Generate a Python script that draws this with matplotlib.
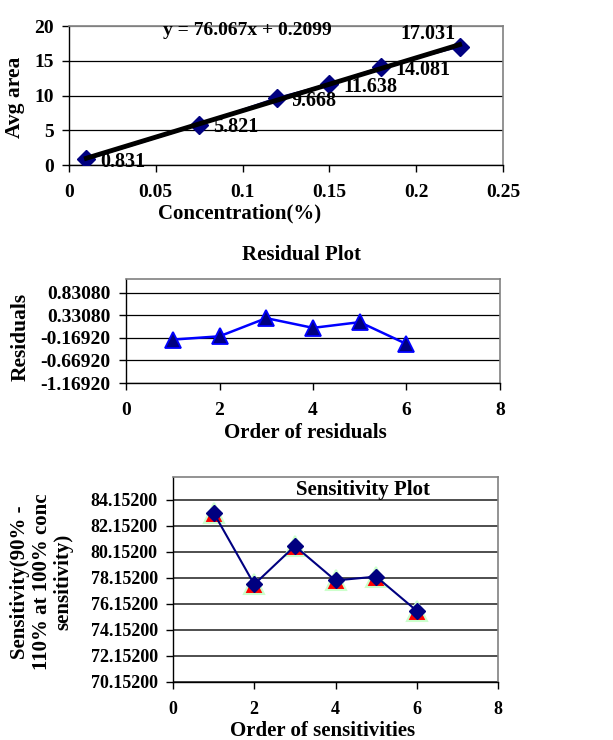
import numpy as np
import matplotlib
matplotlib.use("Agg")
import matplotlib.pyplot as plt

plt.rcParams['font.family'] = ['Liberation Serif', 'DejaVu Serif']
plt.rcParams['font.weight'] = 'bold'

# calibration data
conc = [0.01, 0.075, 0.12, 0.15, 0.18, 0.225]
area = [0.831, 5.821, 9.668, 11.638, 14.081, 17.031]
area_labels = ['0.831', '5.821', '9.668', '11.638', '14.081', '17.031']
equation = 'y = 76.067x + 0.2099'

# residuals
res_order = [1, 2, 3, 4, 5, 6]
residuals = [-0.206, -0.132, 0.271, 0.055, 0.182, -0.303]
res_ticks = [-1.1692, -0.6692, -0.1692, 0.3308, 0.8308]
res_ticklabels = ['-1.16920', '-0.66920', '-0.16920', '0.33080', '0.83080']

# sensitivities
sens_order = [1, 2, 3, 4, 5, 6]
sensitivity = [83.15, 77.65, 80.60, 77.95, 78.25, 75.62]
sens_ticks = [70.152, 72.152, 74.152, 76.152, 78.152, 80.152, 82.152, 84.152]
sens_ticklabels = ['70.15200', '72.15200', '74.15200', '76.15200',
                   '78.15200', '80.15200', '82.15200', '84.15200']

W, H = 613, 740
fig = plt.figure(figsize=(W / 100, H / 100), dpi=100)


def box(l, t, r, b):
    return [l / W, 1 - b / H, (r - l) / W, (b - t) / H]


def style(ax, size):
    for s in ['top', 'right']:
        ax.spines[s].set_color('#808080')
        ax.spines[s].set_linewidth(1.2)
    for s in ['left', 'bottom']:
        ax.spines[s].set_color('black')
        ax.spines[s].set_linewidth(1.0)
    ax.tick_params(axis='both', direction='out', length=5, width=1,
                   labelsize=size)
    ax.tick_params(axis='x', pad=9)
    ax.tick_params(axis='y', pad=6)
    ax.grid(axis='y', color='black', linewidth=0.9)
    ax.set_axisbelow(True)
    for lab in ax.get_xticklabels() + ax.get_yticklabels():
        lab.set_fontweight('bold')


# ---- calibration plot
ax1 = fig.add_axes(box(69, 26, 503, 165))
ax1.plot(conc, area, color='#000080', linewidth=1.5, marker='D',
         markersize=9, markerfacecolor='#000080', markeredgecolor='#000080',
         zorder=3)
m, b = np.polyfit(conc, area, 1)
xfit = np.array([conc[0], conc[-1]])
ax1.plot(xfit, m * xfit + b, color='black', linewidth=3.5, zorder=4)
for i, (xv, yv, t) in enumerate(zip(conc, area, area_labels)):
    if i == len(conc) - 1:
        ax1.annotate(t, (xv, yv), xytext=(-3, 2), textcoords='offset points',
                     ha='right', va='bottom', fontsize=14.5, fontweight='bold',
                     zorder=5)
    else:
        ax1.annotate(t, (xv, yv), xytext=(10, -2), textcoords='offset points',
                     ha='left', va='center', fontsize=14.5, fontweight='bold',
                     zorder=5)
ax1.text(0.054, 19.4, equation, fontsize=14, fontweight='bold', ha='left',
         va='center')
ax1.set_xlim(0, 0.25)
ax1.set_ylim(0, 20)
ax1.set_xticks([0, 0.05, 0.1, 0.15, 0.2, 0.25])
ax1.set_xticklabels(['0', '0.05', '0.1', '0.15', '0.2', '0.25'])
ax1.set_yticks([0, 5, 10, 15, 20])
style(ax1, 14)
ax1.get_ygridlines()[-1].set_color('#808080')
fig.text(240 / W, 1 - 213 / H, 'Concentration(%)', fontsize=15,
         fontweight='bold', ha='center', va='center')
fig.text(15 / W, 1 - 97 / H, 'Avg area', fontsize=15.5, fontweight='bold',
         ha='center', va='center', rotation=90)

# ---- residual plot
ax2 = fig.add_axes(box(126, 279, 500, 383))
ax2.plot(res_order, residuals, color='#0000FF', linewidth=1.8, marker='^',
         markersize=12, markerfacecolor='#000080', markeredgecolor='#0000FF',
         markeredgewidth=1.3, zorder=3)
ax2.set_xlim(0, 8)
ax2.set_ylim(-1.1692, 1.14)
ax2.set_xticks([0, 2, 4, 6, 8])
ax2.set_yticks(res_ticks)
ax2.set_yticklabels(res_ticklabels)
style(ax2, 14)
fig.text(301 / W, 1 - 255 / H, 'Residual Plot', fontsize=15,
         fontweight='bold', ha='center', va='center')
fig.text(305 / W, 1 - 433 / H, 'Order of residuals', fontsize=15,
         fontweight='bold', ha='center', va='center')
fig.text(21 / W, 1 - 337 / H, 'Residuals', fontsize=15.5, fontweight='bold',
         ha='center', va='center', rotation=90)

# ---- sensitivity plot
ax3 = fig.add_axes(box(173, 477, 498, 682))
ax3.plot(sens_order, sensitivity, linestyle='none', marker='^',
         markersize=15, markerfacecolor='#FF0000', markeredgecolor='#CCFFCC',
         markeredgewidth=1.5, zorder=3)
ax3.plot(sens_order, sensitivity, color='#000080', linewidth=1.5, marker='D',
         markersize=8.5, markerfacecolor='#000080', markeredgecolor='#000080',
         zorder=4)
ax3.set_xlim(0, 8)
ax3.set_ylim(70.152, 85.9)
ax3.set_xticks([0, 2, 4, 6, 8])
ax3.set_yticks(sens_ticks)
ax3.set_yticklabels(sens_ticklabels)
style(ax3, 13)
ax3.grid(axis='y', color='#303030', linewidth=1.2)
ax3.text(0.585, 0.935, 'Sensitivity Plot', transform=ax3.transAxes,
         fontsize=15, fontweight='bold', ha='center', va='center')
fig.text(323 / W, 1 - 731 / H, 'Order of sensitivities', fontsize=15,
         fontweight='bold', ha='center', va='center')
fig.text(42 / W, 1 - 582 / H, 'Sensitivity(90% -\n110% at 100% conc\nsensitivity)',
         fontsize=15, fontweight='bold', ha='center', va='center',
         rotation=90, multialignment='center', linespacing=1.1)

fig.savefig('out.png', dpi=100)
